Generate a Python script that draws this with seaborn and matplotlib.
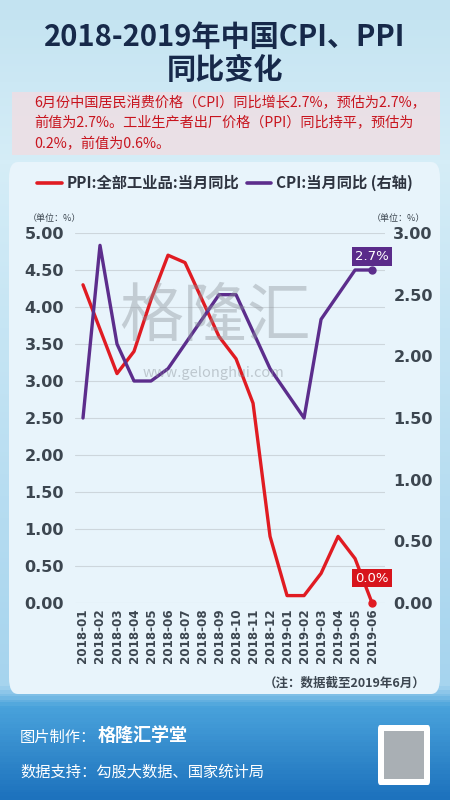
import numpy as np
import pandas as pd
import matplotlib
matplotlib.use("Agg")
import matplotlib.pyplot as plt
from matplotlib.patches import FancyBboxPatch, Rectangle
from matplotlib.lines import Line2D
from matplotlib.colors import LinearSegmentedColormap
import seaborn as sns

months = ["2018-01", "2018-02", "2018-03", "2018-04", "2018-05", "2018-06",
          "2018-07", "2018-08", "2018-09", "2018-10", "2018-11", "2018-12",
          "2019-01", "2019-02", "2019-03", "2019-04", "2019-05", "2019-06"]
ppi = [4.3, 3.7, 3.1, 3.4, 4.1, 4.7, 4.6, 4.1, 3.6, 3.3, 2.7, 0.9,
       0.1, 0.1, 0.4, 0.9, 0.6, 0.0]
cpi = [1.5, 2.9, 2.1, 1.8, 1.8, 1.9, 2.1, 2.3, 2.5, 2.5, 2.2, 1.9,
       1.7, 1.5, 2.3, 2.5, 2.7, 2.7]
left_ticks = [0.0, 0.5, 1.0, 1.5, 2.0, 2.5, 3.0, 3.5, 4.0, 4.5, 5.0]
right_ticks = [0.0, 0.5, 1.0, 1.5, 2.0, 2.5, 3.0]

sns.set_style("white")
plt.rcParams['font.family'] = ['Noto Sans CJK SC', 'DejaVu Sans']

RED = "#e01b22"
PURPLE = "#5c2d8c"
NAVY = "#17294a"
GREY = "#3c4650"
NUMFONT = ['DejaVu Sans']

W, H = 450, 800
fig = plt.figure(figsize=(4.5, 8), dpi=100)

def fx(x): return x / W
def fy(y): return 1 - y / H

# background gradient
bg = fig.add_axes([0, 0, 1, 1], zorder=-10)
bg.set_axis_off()
cmap = LinearSegmentedColormap.from_list("bg", [
    (0.0, "#c3e3f1"), (0.2, "#d5edf7"), (0.86, "#a6d4ee"),
    (0.885, "#4aa3dc"), (1.0, "#1d72bd")])
grad = np.linspace(0, 1, 400).reshape(-1, 1)
bg.imshow(grad, aspect="auto", cmap=cmap, extent=[0, 1, 0, 1], origin="upper")
bg.set_xlim(0, 1); bg.set_ylim(0, 1)

# panel
bg.add_patch(FancyBboxPatch((fx(9), fy(694)), fx(431), (694 - 162) / H,
                            boxstyle="round,pad=0,rounding_size=0.02",
                            fc="#e8f4fb", ec="none", transform=bg.transAxes))
# subtitle box
bg.add_patch(Rectangle((fx(12), fy(155)), fx(428), 63 / H,
                       fc="#eddfe5", ec="none", alpha=0.9, transform=bg.transAxes))
# QR placeholder
bg.add_patch(FancyBboxPatch((fx(378), fy(785)), fx(52), 60 / H,
                            boxstyle="round,pad=0,rounding_size=0.005",
                            fc="white", ec="none", transform=bg.transAxes))
bg.add_patch(Rectangle((fx(384), fy(779)), fx(40), 48 / H,
                       fc="#55606a", ec="none", alpha=0.5, transform=bg.transAxes))

# titles
fig.text(0.5, fy(37), "2018-2019年中国CPI、PPI", ha="center", va="center",
         fontsize=21, fontweight="bold", color=NAVY)
fig.text(0.5, fy(70), "同比变化", ha="center", va="center",
         fontsize=21, fontweight="bold", color=NAVY)
sub = ["6月份中国居民消费价格（CPI）同比增长2.7%，预估为2.7%，",
       "前值为2.7%。工业生产者出厂价格（PPI）同比持平，预估为",
       "0.2%，前值为0.6%。"]
for i, s in enumerate(sub):
    fig.text(fx(34), fy(103 + 20.5 * i), s, ha="left", va="center",
             fontsize=10.2, fontweight="medium", color="#c8141e")

# main axes
ax = fig.add_axes([fx(75), fy(603), fx(310), (603 - 233) / H])
ax.patch.set_alpha(0)
df = pd.DataFrame({"month": months, "idx": np.arange(len(months)),
                   "PPI": ppi, "CPI": cpi})
sns.lineplot(data=df, x="idx", y="PPI", ax=ax, color=RED, lw=2.4, clip_on=False, zorder=5)
ax.set_xlim(-0.47, len(months) - 1 + 0.76)
ax.set_ylim(0, 5)
ax.set_yticks(left_ticks)
ax.set_yticklabels([f"{v:.2f}" for v in left_ticks], fontsize=11.5,
                   fontweight="bold", color=GREY, family=NUMFONT)
ax.set_xticks(df["idx"])
ax.set_xticklabels(months, rotation=90, fontsize=8.6, fontweight="bold",
                   color=GREY, family=NUMFONT)
ax.tick_params(axis="both", length=0)
ax.tick_params(axis="y", pad=8)
ax.tick_params(axis="x", pad=4)
ax.grid(axis="y", color="#cdd6dc", lw=0.8)
ax.grid(axis="x", visible=False)
for sp in ax.spines.values():
    sp.set_visible(False)
ax.set_xlabel(""); ax.set_ylabel("")

ax2 = ax.twinx()
sns.lineplot(data=df, x="idx", y="CPI", ax=ax2, color=PURPLE, lw=2.4, clip_on=False, zorder=5)
ax2.set_ylim(0, 3)
ax2.set_yticks(right_ticks)
ax2.set_yticklabels([f"{v:.2f}" for v in right_ticks], fontsize=11.5,
                    fontweight="bold", color=GREY, family=NUMFONT)
ax2.tick_params(axis="y", length=0, pad=6)
ax2.grid(False)
for sp in ax2.spines.values():
    sp.set_visible(False)
ax2.set_xlabel(""); ax2.set_ylabel("")

# end markers and labels
last = len(months) - 1
ax.plot([last], [ppi[-1]], "o", color=RED, ms=5, clip_on=False, zorder=6)
ax2.plot([last], [cpi[-1]], "o", color=PURPLE, ms=5, clip_on=False, zorder=6)
ax.annotate(f"{ppi[-1]:.1f}%", (last, ppi[-1]), xytext=(0, 18), textcoords="offset points",
            ha="center", va="center", fontsize=9.5, color="white", family=NUMFONT,
            bbox=dict(boxstyle="square,pad=0.22", fc="#d7141c", ec="none"), zorder=7)
ax2.annotate(f"{cpi[-1]:.1f}%", (last, cpi[-1]), xytext=(0, 10), textcoords="offset points",
             ha="center", va="center", fontsize=9.5, color="white", family=NUMFONT,
             bbox=dict(boxstyle="square,pad=0.22", fc="#5a2b8a", ec="none"), zorder=7)

# watermark
fig.text(fx(215), fy(318), "格隆汇", ha="center", va="center", fontsize=46,
         color="#8a9299", alpha=0.4, zorder=0)
fig.text(fx(213), fy(373), "www.gelonghui.com", ha="center", va="center",
         fontsize=10.5, color="#8a9299", alpha=0.45, zorder=0)

# legend
handles = [Line2D([], [], color=RED, lw=2.6), Line2D([], [], color=PURPLE, lw=2.6)]
fig.legend(handles, ["PPI:全部工业品:当月同比", "CPI:当月同比 (右轴)"],
           loc="center", bbox_to_anchor=(0.5, fy(183)), ncol=2, frameon=False,
           prop=dict(size=11, weight="bold"), handlelength=1.6, handletextpad=0.3,
           columnspacing=0.5, labelcolor="#2e3440")

fig.text(fx(28), fy(219), "（单位：%）", ha="left", va="center", fontsize=6.5, color=GREY)
fig.text(fx(425), fy(219), "（单位：%）", ha="right", va="center", fontsize=6.5, color=GREY)
fig.text(fx(425), fy(683), "（注：数据截至2019年6月）", ha="right", va="center",
         fontsize=9, fontweight="bold", color=GREY)

# footer
fig.text(fx(20), fy(737), "图片制作：", ha="left", va="center", fontsize=11, color="white")
fig.text(fx(98), fy(735), "格隆汇学堂", ha="left", va="center", fontsize=13,
         fontweight="bold", color="white")
fig.text(fx(20), fy(772), "数据支持：勾股大数据、国家统计局", ha="left", va="center",
         fontsize=11, color="white")

fig.savefig("out.png", dpi=100)
